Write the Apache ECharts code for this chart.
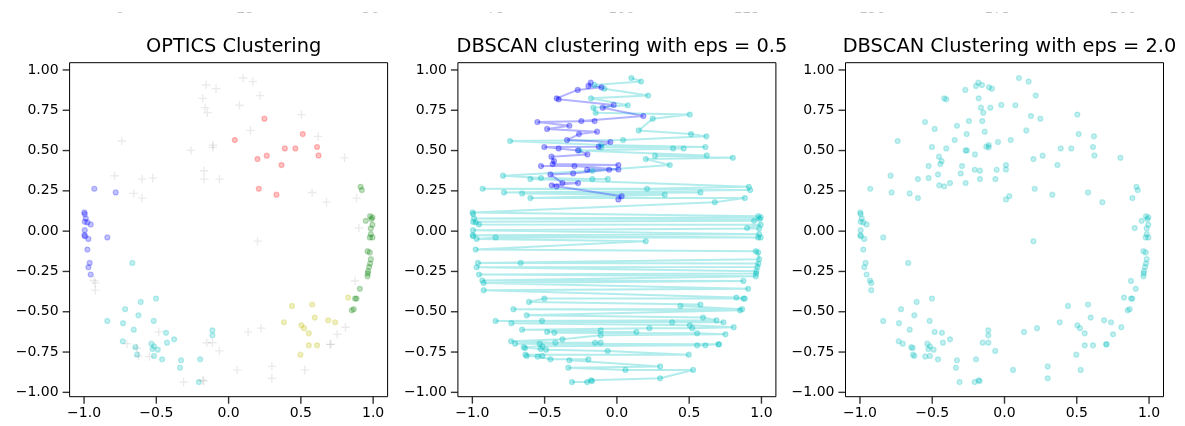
<!DOCTYPE html>
<html>
<head>
<meta charset="utf-8">
<script src="https://cdn.jsdelivr.net/npm/echarts@6/dist/echarts.min.js"></script>
<style>
  html, body { margin: 0; padding: 0; background: #fff; }
  #chart { width: 1185px; height: 426px; }
</style>
</head>
<body>
<div id="chart"></div>
<script>
// points, grouped by the OPTICS label they got
const opticsGreen = [
  [0.913, 0.275], [0.922, 0.255], [0.979, 0.093], [0.995, 0.085], [0.988, 0.075],
  [0.949, 0.064], [0.995, 0.039], [0.984, 0.017], [0.984, -0.019], [0.977, -0.039],
  [0.995, -0.039], [0.961, -0.124], [0.977, -0.132], [0.984, -0.174], [0.979, -0.201],
  [0.972, -0.222], [0.965, -0.248], [0.963, -0.263], [0.961, -0.280], [0.908, -0.358],
  [0.875, -0.418], [0.885, -0.418], [0.852, -0.491], [0.866, -0.484]
]
const opticsRed = [
  [0.248, 0.698], [0.043, 0.565], [0.513, 0.602], [0.389, 0.513], [0.462, 0.513],
  [0.612, 0.522], [0.622, 0.470], [0.200, 0.447], [0.264, 0.468], [0.366, 0.410],
  [0.209, 0.263], [0.331, 0.226]
]
const opticsBlue = [
  [-0.929, 0.263], [-0.781, 0.240], [-0.998, 0.116], [-0.995, 0.106], [-0.988, 0.079],
  [-0.995, 0.058], [-0.977, 0.054], [-0.954, 0.042], [-0.995, 0.006], [-0.998, -0.025],
  [-0.993, -0.031], [-0.970, -0.048], [-0.839, -0.039], [-0.977, -0.114], [-0.961, -0.197],
  [-0.970, -0.224], [-0.954, -0.269]
]
const opticsYellow = [
  [0.439, -0.464], [0.578, -0.455], [0.596, -0.536], [0.689, -0.553], [0.737, -0.565],
  [0.382, -0.565], [0.504, -0.584], [0.522, -0.602], [0.555, -0.634], [0.555, -0.708],
  [0.612, -0.708], [0.497, -0.766], [0.827, -0.412]
]
const opticsCyan = [
  [-0.666, -0.197], [-0.608, -0.439], [-0.502, -0.418], [-0.716, -0.484], [-0.624, -0.522],
  [-0.839, -0.557], [-0.730, -0.571], [-0.518, -0.557], [-0.656, -0.611], [-0.433, -0.631],
  [-0.377, -0.671], [-0.426, -0.692], [-0.732, -0.683], [-0.645, -0.720], [-0.534, -0.698],
  [-0.516, -0.714], [-0.527, -0.731], [-0.490, -0.735], [-0.516, -0.774], [-0.633, -0.766],
  [-0.460, -0.795], [-0.329, -0.801], [-0.336, -0.847], [-0.206, -0.936], [-0.197, -0.795],
  [-0.112, -0.615], [-0.112, -0.646]
]
const opticsNoise = [
  [0.100, 0.950], [0.167, 0.928], [-0.156, 0.907], [-0.087, 0.884], [-0.179, 0.824],
  [-0.163, 0.766], [-0.147, 0.735], [0.216, 0.841], [0.075, 0.781], [0.504, 0.723],
  [0.151, 0.625], [0.619, 0.588], [-0.739, 0.559], [-0.260, 0.501], [-0.109, 0.534],
  [-0.109, 0.520], [0.802, 0.455], [-0.170, 0.375], [-0.170, 0.323], [-0.063, 0.323],
  [-0.788, 0.344], [-0.599, 0.323], [-0.525, 0.329], [-0.656, 0.234], [-0.599, 0.205],
  [0.578, 0.240], [0.677, 0.180], [0.885, 0.205], [0.901, 0.019], [0.200, -0.062],
  [-0.931, -0.306], [-0.922, -0.321], [-0.922, -0.366], [-0.483, -0.625], [-0.704, -0.698],
  [-0.635, -0.725], [-0.624, -0.774], [-0.548, -0.778], [-0.311, -0.936], [-0.179, -0.925],
  [-0.172, -0.930], [-0.151, -0.692], [-0.112, -0.692], [-0.064, -0.743], [0.059, -0.861],
  [0.135, -0.625], [0.225, -0.602], [0.299, -0.839], [0.299, -0.913], [0.527, -0.861],
  [0.702, -0.702], [0.707, -0.702], [0.751, -0.640], [0.808, -0.596], [0.875, -0.309]
]
// OPTICS cluster that is not drawn in panel 1; it is the blue cluster at eps = 0.5
const hiddenCluster = [
  [-0.181, 0.921], [-0.197, 0.901], [-0.107, 0.892], [-0.271, 0.876], [-0.417, 0.824],
  [-0.403, 0.818], [-0.098, 0.766], [-0.022, 0.783], [-0.550, 0.677], [-0.246, 0.683],
  [-0.154, 0.683], [-0.329, 0.654], [-0.483, 0.634], [-0.262, 0.602], [-0.137, 0.617],
  [-0.345, 0.565], [-0.045, 0.553], [-0.126, 0.524], [-0.502, 0.522], [-0.403, 0.513],
  [-0.269, 0.501], [-0.204, 0.476], [-0.453, 0.462], [-0.435, 0.435], [-0.444, 0.416],
  [-0.525, 0.404], [-0.294, 0.404], [-0.206, 0.381], [-0.054, 0.381], [0.010, 0.410],
  [0.010, 0.383], [-0.460, 0.352], [-0.303, 0.358], [-0.451, 0.284], [-0.417, 0.278],
  [-0.377, 0.298], [-0.269, 0.298], [0.010, 0.197], [0.033, 0.217], [0.183, 0.714]
]

const xTicks = [-1, -0.5, 0, 0.5, 1]
const yTicks = [-1, -0.75, -0.5, -0.25, 0, 0.25, 0.5, 0.75, 1]
const topTicks = [0, 25, 50, 75, 100, 125, 150, 175, 200]
const titles = ['OPTICS Clustering', 'DBSCAN clustering with eps = 0.5', 'DBSCAN Clustering with eps = 2.0']

const byY = (a, b) => b[1] - a[1]
const allPoints = [].concat(opticsGreen, opticsRed, opticsBlue, opticsYellow, opticsCyan, opticsNoise, hiddenCluster)
const eps05Cyan = [].concat(opticsGreen, opticsRed, opticsBlue, opticsYellow, opticsCyan, opticsNoise).sort(byY)
const eps05Blue = hiddenCluster.slice().sort(byY)

const FONT = 'DejaVu Sans'
const gridLefts = [69.6, 457.9, 845.5]
const GW = 318
const GT = 62.7
const GH = 334
const X_MIN = -1.1, X_MAX = 1.1
const Y_MIN = -1.027, Y_MAX = 1.045
const TICK = 7

function minus(v, d) {
  return (v < 0 ? '\u2212' : '') + Math.abs(v).toFixed(d)
}

function rgba(c, a) {
  return 'rgba(' + c.join(',') + ',' + a + ')'
}

function dots(idx, data, c) {
  return {
    type: 'scatter', xAxisIndex: idx, yAxisIndex: idx, data: data,
    symbol: 'circle', symbolSize: 5,
    itemStyle: { color: rgba(c, 0.3), borderColor: rgba(c, 0.3), borderWidth: 1.2 }
  }
}

function trace(idx, data, c) {
  return {
    type: 'line', xAxisIndex: idx, yAxisIndex: idx, data: data,
    symbol: 'circle', symbolSize: 5, showAllSymbol: true,
    lineStyle: { color: rgba(c, 0.3), width: 2 },
    itemStyle: { color: rgba(c, 0.3), borderColor: rgba(c, 0.3), borderWidth: 1.2 }
  }
}

// outward tick marks along the bottom and left frame, placed through the axes
function tickMarks(idx) {
  return [{
    type: 'scatter', xAxisIndex: idx, yAxisIndex: idx, clip: false, silent: true, z: 5,
    data: xTicks.map(v => [v, Y_MIN]),
    symbol: 'rect', symbolSize: [1.4, TICK], symbolOffset: [0, TICK / 2],
    itemStyle: { color: '#000' }
  }, {
    type: 'scatter', xAxisIndex: idx, yAxisIndex: idx, clip: false, silent: true, z: 5,
    data: yTicks.map(v => [X_MIN, v]),
    symbol: 'rect', symbolSize: [TICK, 1.4], symbolOffset: [-TICK / 2, 0],
    itemStyle: { color: '#000' }
  }]
}

const grids = gridLefts.map(l => ({ left: l, top: GT, width: GW, height: GH, show: true, borderColor: '#000', borderWidth: 1, backgroundColor: 'transparent' }))
grids.push({ left: 120, top: -60, width: 1003, height: 50 })

const noLine = { show: false, onZero: false }

const xAxes = gridLefts.map((l, i) => ({
  type: 'value', gridIndex: i, min: X_MIN, max: X_MAX,
  splitLine: { show: false }, axisLine: noLine, axisTick: { show: false },
  axisLabel: { customValues: xTicks, formatter: v => minus(v, 1), color: '#000', fontFamily: FONT, fontSize: 14, margin: 10 }
}))
xAxes.push({
  type: 'value', gridIndex: 3, min: 0, max: 200, interval: 25,
  splitLine: { show: false }, axisLine: noLine, axisTick: { show: false },
  axisLabel: { customValues: topTicks, color: '#000', fontFamily: FONT, fontSize: 14, margin: -0.5 }
})

const yAxes = gridLefts.map((l, i) => ({
  type: 'value', gridIndex: i, min: Y_MIN, max: Y_MAX,
  splitLine: { show: false }, axisLine: noLine, axisTick: { show: false },
  axisLabel: { customValues: yTicks, formatter: v => minus(v, 2), color: '#000', fontFamily: FONT, fontSize: 14, margin: 11 }
}))
yAxes.push({ type: 'value', gridIndex: 3, show: false, min: 0, max: 1 })

const plusSymbol = 'path://M-0.16,-1 L0.16,-1 L0.16,-0.16 L1,-0.16 L1,0.16 L0.16,0.16 L0.16,1 L-0.16,1 L-0.16,0.16 L-1,0.16 L-1,-0.16 L-0.16,-0.16 Z'

const series = [
  dots(0, opticsGreen, [0, 128, 0]),
  dots(0, opticsRed, [255, 0, 0]),
  dots(0, opticsBlue, [0, 0, 255]),
  dots(0, opticsYellow, [191, 191, 0]),
  dots(0, opticsCyan, [0, 191, 191]),
  {
    type: 'scatter', xAxisIndex: 0, yAxisIndex: 0, data: opticsNoise,
    symbol: plusSymbol, symbolSize: 8.5,
    itemStyle: { color: 'rgba(0,0,0,0.1)' }
  },
  trace(1, eps05Cyan, [0, 191, 191]),
  trace(1, eps05Blue, [0, 0, 255]),
  dots(2, allPoints, [0, 191, 191]),
  { type: 'scatter', xAxisIndex: 3, yAxisIndex: 3, data: [] }
].concat(tickMarks(0), tickMarks(1), tickMarks(2))

const chart = echarts.init(document.getElementById('chart'))
chart.setOption({
  animation: false,
  backgroundColor: '#fff',
  title: gridLefts.map((l, i) => ({
    text: titles[i], left: l + GW / 2, top: 32, textAlign: 'center',
    textStyle: { fontFamily: FONT, fontSize: 19.4, fontWeight: 'normal', color: '#000' }
  })),
  grid: grids,
  xAxis: xAxes,
  yAxis: yAxes,
  series: series,
  graphic: [{
    type: 'rect', z: 100, zlevel: 1, silent: true,
    shape: { x: 0, y: 0, width: 1185, height: 12.7 },
    style: { fill: '#fff' }
  }]
})
</script>
</body>
</html>
